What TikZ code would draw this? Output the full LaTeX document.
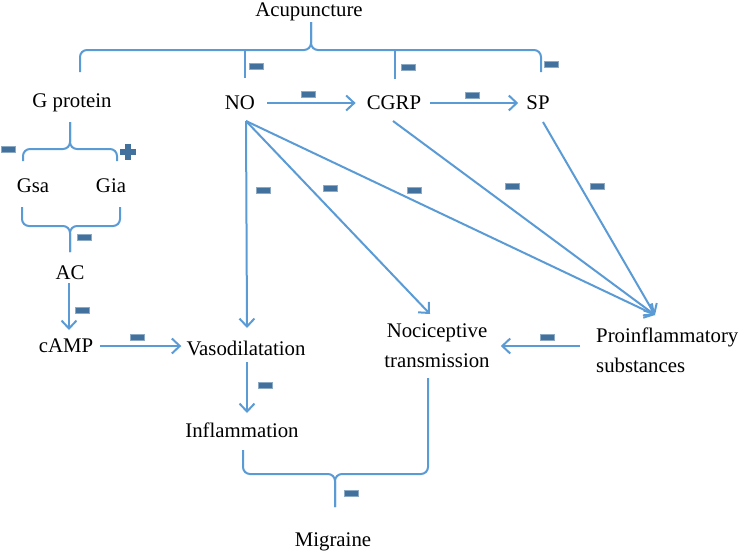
\documentclass[tikz,border=0pt]{standalone}
\usepackage{fontspec}
\setmainfont{Liberation Serif}
\usetikzlibrary{arrows.meta}

\definecolor{lineblue}{HTML}{5B9BD5}
\definecolor{signblue}{HTML}{41719C}

\begin{document}
\begin{tikzpicture}[x=1pt,y=-1pt,
  txt/.style={font=\fontsize{20.8}{30}\selectfont, inner sep=1pt},
  link/.style={line width=2pt, lineblue},
  arr/.style={link, -{Straight Barb[length=8pt,width=15pt]}},
  brace/.style={link, rounded corners=7pt},
  minus/.style={rectangle, fill=signblue, draw=signblue!60!white, line width=0.6pt,
    minimum width=14pt, minimum height=6pt, inner sep=0pt}]

\useasboundingbox (0,0) rectangle (741,554);

% labels
\node[txt] (Acu) at (309,12) {Acupuncture};
\node[txt] (GP) at (72,103) {G protein};
\node[txt] (NO) at (240,103) {NO};
\node[txt] (CGRP) at (394,103) {CGRP};
\node[txt] (SP) at (538,103) {SP};
\node[txt] (Gsa) at (33,186) {Gsa};
\node[txt] (Gia) at (111,186) {Gia};
\node[txt] (AC) at (70,273) {AC};
\node[txt] (cAMP) at (66,346) {cAMP};
\node[txt] (Vaso) at (246,348) {Vasodilatation};
\node[txt] (Infl) at (242,430) {Inflammation};
\node[txt, align=center] (Noci) at (437,346) {Nociceptive\\transmission};
\node[txt, align=left, anchor=west] (PS) at (595,350) {Proinflammatory\\substances};
\node[txt] (Mig) at (333,542) {Migraine};

\coordinate (nob) at (246,121);
\coordinate (pin) at (655,315);

% braces
\draw[brace] (80,72) -- (80,50) -- (311,50) -- (311,22);
\draw[brace] (541,72) -- (541,50) -- (311,50) -- (311,22);
\draw[link] (245,50) -- (245,78);
\draw[link] (395,50) -- (395,79);

\draw[brace] (23,161) -- (23,149) -- (70,149) -- (70,122);
\draw[brace] (117,161) -- (117,149) -- (70,149) -- (70,122);

\draw[brace] (22,207) -- (22,226) -- (70,226) -- (70,252);
\draw[brace] (120,207) -- (120,226) -- (70,226) -- (70,252);

\draw[brace] (243,450) -- (243,474) -- (335,474) -- (335,507);
\draw[brace] (428,378) -- (428,474) -- (335,474) -- (335,507);

% arrows
\draw[arr, shorten <=11pt, shorten >=10pt] (NO.east) -- (CGRP.west);
\draw[arr, shorten <=8pt, shorten >=7pt] (CGRP.east) -- (SP.west);
\draw[arr] (69,283) -- (69,330);
\draw[arr, shorten <=6pt, shorten >=4pt] (cAMP.east) -- (cAMP.east -| Vaso.west);
\draw[arr] (247,362) -- (247,413);
\draw[arr, shorten <=15pt, shorten >=10pt] (PS.west |- Noci.east) -- (Noci.east);

\draw[arr] (nob) -- (247,328);
\draw[arr] (nob) -- (430,314);
\draw[arr] (nob) -- (pin);
\draw[arr] (393,121) -- (pin);
\draw[arr] (543,122) -- (pin);

% signs
\node[minus] (m1) at (256,66) {};
\node[minus] (m2) at (408,67) {};
\node[minus] (m3) at (551,64) {};
\node[minus] (m4) at (308,94) {};
\node[minus] (m5) at (472,95) {};
\node[minus] (m6) at (8,149) {};
\node[minus] (m7) at (84,237) {};
\node[minus] (m8) at (82,310) {};
\node[minus] (m9) at (137,337) {};
\node[minus] (m10) at (263,190) {};
\node[minus] (m11) at (330,188) {};
\node[minus] (m12) at (414,190) {};
\node[minus] (m13) at (512,186) {};
\node[minus] (m14) at (597,186) {};
\node[minus] (m15) at (265,385) {};
\node[minus] (m16) at (547,337) {};
\node[minus] (m17) at (351,493) {};

\fill[signblue] (120,149) rectangle (136,155);
\fill[signblue] (125,144) rectangle (131,160);

\end{tikzpicture}
\end{document}
